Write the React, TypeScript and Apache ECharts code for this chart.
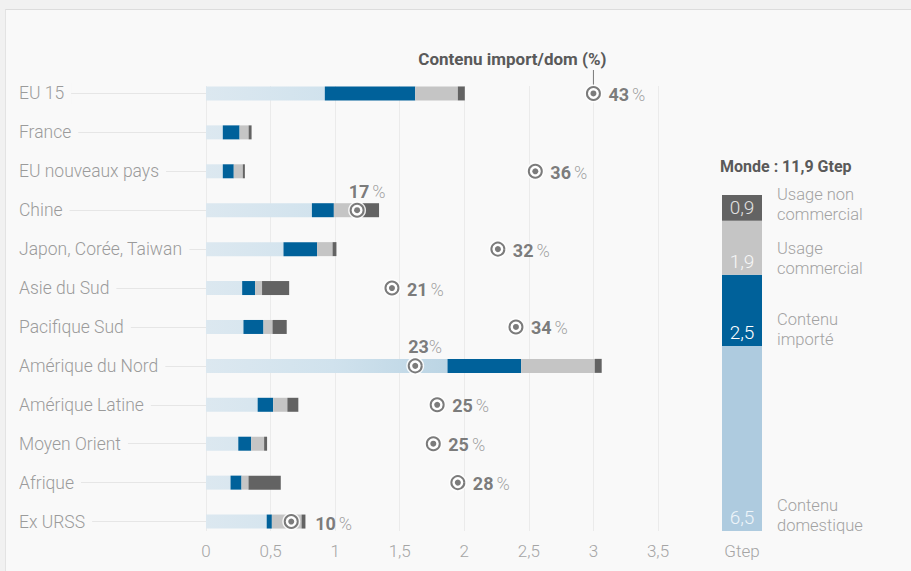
import React, { useEffect, useRef } from "react";
import * as echarts from "echarts";

const categories = [
  "EU 15",
  "France",
  "EU nouveaux pays",
  "Chine",
  "Japon, Corée, Taiwan",
  "Asie du Sud",
  "Pacifique Sud",
  "Amérique du Nord",
  "Amérique Latine",
  "Moyen Orient",
  "Afrique",
  "Ex URSS",
];
// Gtep
const domestic = [0.92, 0.13, 0.13, 0.82, 0.6, 0.28, 0.29, 1.87, 0.4, 0.25, 0.19, 0.47];
const imported = [0.7, 0.13, 0.085, 0.17, 0.26, 0.1, 0.155, 0.57, 0.12, 0.1, 0.085, 0.04];
const commercial = [0.33, 0.07, 0.07, 0.22, 0.12, 0.054, 0.07, 0.57, 0.11, 0.1, 0.054, 0.23];
const nonCommercial = [0.054, 0.023, 0.016, 0.13, 0.03, 0.21, 0.11, 0.054, 0.085, 0.023, 0.25, 0.03];

// Contenu import/dom (%) and the position of its marker on the Gtep axis
const importPct = [43, null, 36, 17, 32, 21, 34, 23, 25, 25, 28, 10];
const markerPos = [3.0, null, 2.55, 1.17, 2.26, 1.44, 2.4, 1.62, 1.79, 1.76, 1.95, 0.66];
const labelAbove = [3, 7];
const noSpaceLabel = [7];
const farLabel = [11];

// World legend bar
const worldNames = ["Contenu\ndomestique", "Contenu\nimporté", "Usage\ncommercial", "Usage non\ncommercial"];
const worldValues = [6.5, 2.5, 1.9, 0.9];
const worldTitle = "Monde : 11,9 Gtep";
const worldAxis = ["Gtep"];

const xMin = 0;
const xMax = 3.5;
const xInterval = 0.5;

const FONT = "Roboto, 'Liberation Sans', sans-serif";
const BG = "#f9f9f9";
const C_DOM_LEGEND = "#aecbdf";
const C_IMP = "#00619a";
const C_COM = "#c5c5c5";
const C_NC = "#636363";
const C_DARK = "#5a5a5a";

const fmt = (v: number) => String(v).replace(".", ",");

export default function App() {
  const ref = useRef<HTMLDivElement>(null);

  useEffect(() => {
    if (!ref.current) return;
    const chart = echarts.init(ref.current, null, { renderer: "svg" });

    const grad = new echarts.graphic.LinearGradient(
      206, 0, 460, 0,
      [
        { offset: 0, color: "#dce8f0" },
        { offset: 0.5, color: "#d0e2ed" },
        { offset: 1, color: "#b9d3e3" },
      ],
      true
    );

    const stackBar = (name: string, data: number[], color: any) => ({
      name,
      type: "bar",
      stack: "total",
      xAxisIndex: 0,
      yAxisIndex: 0,
      barWidth: 14,
      data,
      itemStyle: { color },
      emphasis: { disabled: true },
    });

    const markerData = markerPos
      .map((v, i) => (v == null ? null : [v, i]))
      .filter((d) => d !== null) as number[][];

    const dotData = markerData.map((d) => {
      const i = d[1];
      const pct = importPct[i];
      const sep = noSpaceLabel.includes(i) ? "" : " ";
      const above = labelAbove.includes(i);
      const far = farLabel.includes(i);
      return {
        value: d,
        label: {
          show: true,
          position: above ? "top" : "right",
          distance: above ? 7 : 12,
          offset: above ? [10, 0] : far ? [9, 2] : [0, 1],
          formatter: `{n|${pct}}${sep}{p|%}`,
          rich: {
            n: { fontFamily: FONT, fontSize: 18, fontWeight: "bold", color: C_DARK },
            p: { fontFamily: FONT, fontSize: 18, fontWeight: 300, color: "#8d8d8d" },
          },
        },
      };
    });

    const worldSeries = worldValues.map((v, i) => ({
      name: worldNames[i],
      type: "bar",
      stack: "world",
      xAxisIndex: 2,
      yAxisIndex: 2,
      barWidth: 40,
      data: [v],
      itemStyle: { color: [C_DOM_LEGEND, C_IMP, C_COM, C_NC][i] },
      emphasis: { disabled: true },
      label: {
        show: true,
        position: "insideBottom",
        distance: 4,
        formatter: () => fmt(v),
        fontFamily: FONT,
        fontSize: 19,
        fontWeight: 300,
        color: ["#eef5fa", "#ffffff", "#f7f7f7", "#e2e2e2"][i],
      },
    }));

    const worldTotal = worldValues.reduce((a, b) => a + b, 0);

    const option: any = {
      animation: false,
      backgroundColor: "transparent",
      textStyle: { fontFamily: FONT },
      grid: [
        { left: 206, width: 452, top: 74, height: 467 },
        { left: 206, width: 452, top: 86, height: 445 },
        { left: 722, width: 40, top: 195, height: 336 },
      ],
      xAxis: [
        {
          gridIndex: 0,
          type: "value",
          min: xMin,
          max: xMax,
          interval: xInterval,
          show: false,
        },
        {
          gridIndex: 1,
          type: "value",
          min: xMin,
          max: xMax,
          interval: xInterval,
          axisLine: { show: false },
          axisTick: { show: false },
          splitLine: { show: true, lineStyle: { color: "#ebebeb", width: 1 } },
          axisLabel: {
            margin: 11,
            fontFamily: FONT,
            fontSize: 17,
            fontWeight: 300,
            color: "#a5a5a5",
            formatter: (v: number) => fmt(v),
          },
        },
        {
          gridIndex: 2,
          type: "category",
          data: worldAxis,
          axisLine: { show: false },
          axisTick: { show: false },
          axisLabel: {
            margin: 11,
            fontFamily: FONT,
            fontSize: 17,
            fontWeight: 300,
            color: "#a5a5a5",
          },
        },
      ],
      yAxis: [
        {
          gridIndex: 0,
          type: "category",
          data: categories,
          inverse: true,
          axisLine: { show: false },
          axisTick: {
            show: true,
            alignWithLabel: true,
            length: 187,
            lineStyle: { color: "#e6e6e6", width: 1 },
          },
          axisLabel: {
            margin: 187,
            align: "left",
            fontFamily: FONT,
            fontSize: 17.5,
            fontWeight: 300,
            color: "#9b9b9b",
            backgroundColor: BG,
            padding: [2, 7, 2, 0],
          },
          splitLine: { show: false },
        },
        { gridIndex: 1, type: "value", min: 0, max: 1, show: false },
        { gridIndex: 2, type: "value", min: 0, max: worldTotal, show: false },
      ],
      series: [
        stackBar("Contenu domestique", domestic, grad),
        stackBar("Contenu importé", imported, C_IMP),
        stackBar("Usage commercial", commercial, C_COM),
        stackBar("Usage non commercial", nonCommercial, C_NC),
        {
          type: "scatter",
          xAxisIndex: 0,
          yAxisIndex: 0,
          symbol: "circle",
          symbolSize: 18,
          data: markerData,
          itemStyle: { color: "#ffffff", opacity: 0.85 },
          emphasis: { disabled: true },
          silent: true,
        },
        {
          type: "scatter",
          xAxisIndex: 0,
          yAxisIndex: 0,
          symbol: "circle",
          symbolSize: 13,
          data: markerData,
          itemStyle: { color: "#ffffff", borderColor: C_DARK, borderWidth: 2 },
          emphasis: { disabled: true },
          silent: true,
        },
        {
          type: "scatter",
          xAxisIndex: 0,
          yAxisIndex: 0,
          symbol: "circle",
          symbolSize: 6,
          data: dotData,
          itemStyle: { color: C_DARK },
          emphasis: { disabled: true },
          silent: true,
        },
        ...worldSeries,
      ],
    };

    chart.setOption(option);

    // annotations positioned via the chart's own scales
    const topPt = chart.convertToPixel({ gridIndex: 0 }, [markerPos[0] as number, 0]) as number[];
    const graphics: any[] = [
      {
        type: "text",
        x: topPt[0] - 81,
        y: 59,
        style: {
          text: "Contenu import/dom (%)",
          fontFamily: FONT,
          fontSize: 17,
          fontWeight: "bold",
          fill: C_DARK,
          textAlign: "center",
          textVerticalAlign: "middle",
        },
      },
      {
        type: "line",
        shape: { x1: topPt[0], y1: 70, x2: topPt[0], y2: topPt[1] - 8 },
        style: { stroke: "#777", lineWidth: 1 },
      },
      {
        type: "text",
        x: 720,
        y: 166,
        style: {
          text: worldTitle,
          fontFamily: FONT,
          fontSize: 16,
          fontWeight: "bold",
          fill: C_DARK,
          textAlign: "left",
          textVerticalAlign: "middle",
        },
      },
    ];
    let cum = 0;
    worldValues.forEach((v, i) => {
      const p = chart.convertToPixel({ gridIndex: 2 }, [worldAxis[0], cum]) as number[];
      cum += v;
      graphics.push({
        type: "text",
        x: 777,
        y: p[1] + 4,
        style: {
          text: worldNames[i],
          fontFamily: FONT,
          fontSize: 16.5,
          fontWeight: 300,
          lineHeight: 20,
          fill: "#a2a2a2",
          textAlign: "left",
          textVerticalAlign: "bottom",
        },
      });
    });
    chart.setOption({ graphic: graphics });

    return () => chart.dispose();
  }, []);

  return (
    <div style={{ position: "absolute", left: 0, top: 0, width: 911, height: 571, background: "#f1f1f1", overflow: "hidden" }}>
      <div
        style={{
          position: "absolute",
          left: 5,
          top: 9,
          right: 0,
          bottom: 0,
          background: BG,
          borderTop: "1px solid #dcdcdc",
          borderLeft: "1px solid #e3e3e3",
        }}
      />
      <div ref={ref} style={{ position: "absolute", left: 0, top: 0, width: 911, height: 571 }} />
    </div>
  );
}
